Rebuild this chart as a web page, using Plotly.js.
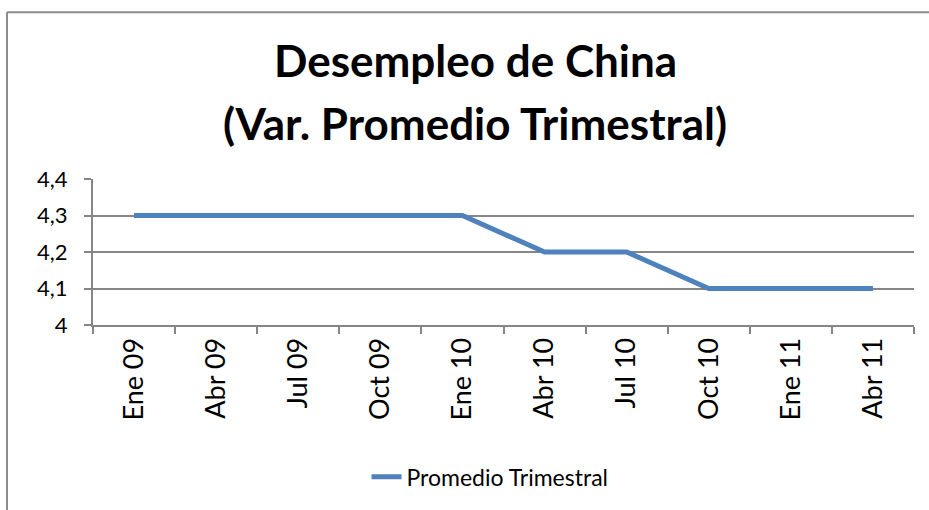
<!DOCTYPE html>
<html>
<head>
<meta charset="utf-8">
<script src="https://cdn.plot.ly/plotly-3.0.1.min.js"></script>
<style>
  html, body { margin: 0; background: #fff; overflow: hidden; }
</style>
</head>
<body>
<div id="plotArea" style="width:929px;height:510px;"></div>
<script>
// quarters and the unemployment rate (quarterly average)
var quarters = ["Ene 09", "Abr 09", "Jul 09", "Oct 09", "Ene 10", "Abr 10", "Jul 10", "Oct 10", "Ene 11", "Abr 11"];
var promedio = [4.3, 4.3, 4.3, 4.3, 4.3, 4.2, 4.2, 4.1, 4.1, 4.1];
var titleLines = ["Desempleo de China", "(Var. Promedio Trimestral)"];

var trace = {
    x: quarters,
    y: promedio,
    type: "scatter",
    mode: "lines",
    name: "Promedio Trimestral",
    line: {color: "#4F81BD", width: 5}
};

// plot box is 93..914 px wide, 179..327 px tall
var px = function(p) { return (p - 93) / 821; };
var py = function(p) { return 1 - (p - 179) / 148; };

var layout = {
    width: 929,
    height: 510,
    margin: {l: 93, r: 15, t: 179, b: 183},
    paper_bgcolor: "#fff",
    plot_bgcolor: "#fff",
    separators: ",.",
    font: {family: "Lato, 'Liberation Sans', sans-serif", color: "#000", size: 22},
    annotations: [
        {text: "<b>" + titleLines[0] + "</b>", xref: "paper", yref: "paper",
         x: px(475), y: py(58), xanchor: "center", yanchor: "middle",
         showarrow: false, font: {size: 44}},
        {text: "<b>" + titleLines[1] + "</b>", xref: "paper", yref: "paper",
         x: px(475), y: py(122), xanchor: "center", yanchor: "middle",
         showarrow: false, font: {size: 44}}
    ],
    shapes: [
        {type: "line", xref: "paper", yref: "paper", x0: px(7), x1: px(7), y0: py(515), y1: py(10),
         line: {color: "#8c8c8c", width: 2}},
        {type: "line", xref: "paper", yref: "paper", x0: px(7), x1: px(935), y0: py(10), y1: py(10),
         line: {color: "#8c8c8c", width: 2}}
    ],
    xaxis: {
        type: "category",
        range: [-0.5, quarters.length - 0.5],
        tickangle: -90,
        tickson: "boundaries",
        ticks: "outside",
        ticklen: 7,
        tickcolor: "#868686",
        tickwidth: 2,
        tickfont: {size: 27},
        showline: true,
        linecolor: "#868686",
        linewidth: 2,
        showgrid: false,
        fixedrange: true
    },
    yaxis: {
        range: [4, 4.4],
        dtick: 0.1,
        ticks: "outside",
        ticklen: 7,
        tickcolor: "#868686",
        tickwidth: 2,
        ticklabelstandoff: 12,
        showline: true,
        linecolor: "#868686",
        linewidth: 2,
        gridcolor: "#868686",
        gridwidth: 1.5,
        zeroline: false,
        fixedrange: true
    },
    showlegend: true,
    legend: {
        orientation: "h",
        x: px(490),
        xanchor: "center",
        y: py(481),
        yanchor: "middle",
        font: {size: 23}
    }
};

Plotly.newPlot("plotArea", [trace], layout, {displayModeBar: false});
</script>
</body>
</html>
